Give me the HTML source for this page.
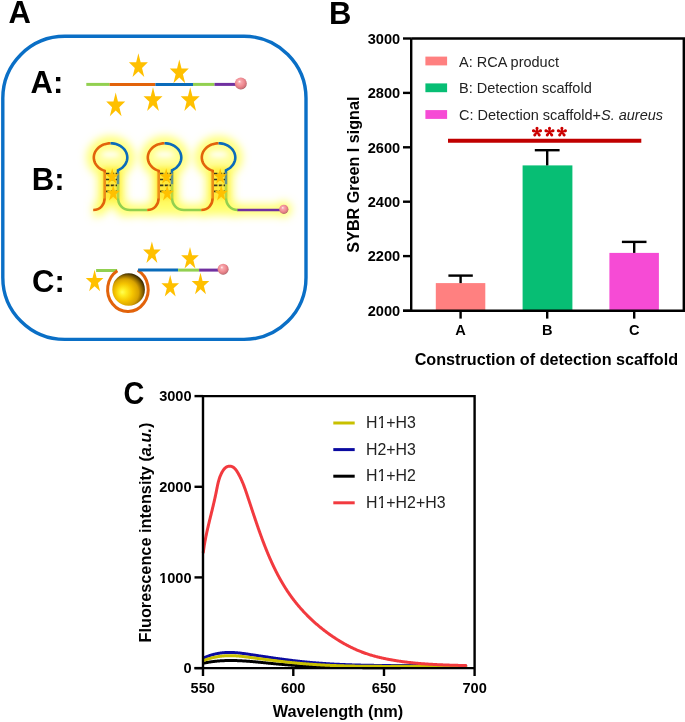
<!DOCTYPE html>
<html><head><meta charset="utf-8"><style>html,body{margin:0;padding:0;background:#fff;}svg{display:block;will-change:transform;}</style></head>
<body>
<svg width="685" height="722" viewBox="0 0 685 722">
<defs>
<radialGradient id="pink" cx="0.45" cy="0.42" r="0.62" fx="0.38" fy="0.33">
<stop offset="0" stop-color="#FFF4F4"/><stop offset="0.22" stop-color="#F8A8AE"/><stop offset="0.6" stop-color="#EE8990"/><stop offset="0.85" stop-color="#D0727A"/><stop offset="1" stop-color="#8A4A50"/>
</radialGradient>
<radialGradient id="gold" cx="0.42" cy="0.6" r="0.6" fx="0.3" fy="0.58">
<stop offset="0" stop-color="#FFFF55"/><stop offset="0.18" stop-color="#FFEC20"/><stop offset="0.45" stop-color="#F5C400"/><stop offset="0.7" stop-color="#D8A200"/><stop offset="0.86" stop-color="#8E6800"/><stop offset="1" stop-color="#3E2C00"/>
</radialGradient>
<filter id="blur" x="-30%" y="-30%" width="160%" height="160%"><feGaussianBlur stdDeviation="2.5"/></filter><filter id="blur2" x="-30%" y="-30%" width="160%" height="160%"><feGaussianBlur stdDeviation="4.5"/></filter>
</defs>
<rect width="685" height="722" fill="#fff"/>

<text x="8.4" y="22.9" font-family="Liberation Sans, sans-serif" font-weight="bold" font-size="31">A</text>
<rect x="2.8" y="36.3" width="303.2" height="303.1" rx="62" ry="62" fill="none" stroke="#0A6FC6" stroke-width="3.4"/>
<text x="30.6" y="92.6" font-family="Liberation Sans, sans-serif" font-weight="bold" font-size="31">A:</text>
<text x="31.8" y="189.9" font-family="Liberation Sans, sans-serif" font-weight="bold" font-size="31">B:</text>
<text x="32" y="291.8" font-family="Liberation Sans, sans-serif" font-weight="bold" font-size="31">C:</text>
<line x1="86.3" y1="84.4" x2="109.6" y2="84.4" stroke="#92D050" stroke-width="3"/>
<line x1="109.6" y1="84.4" x2="155.4" y2="84.4" stroke="#E2630B" stroke-width="3"/>
<line x1="155.4" y1="84.4" x2="193" y2="84.4" stroke="#0A6BBA" stroke-width="3"/>
<line x1="193" y1="84.4" x2="214.5" y2="84.4" stroke="#92D050" stroke-width="3"/>
<line x1="214.5" y1="84.4" x2="236" y2="84.4" stroke="#7030A0" stroke-width="3"/>
<circle cx="240.8" cy="83.5" r="6" fill="url(#pink)"/>
<path d="M138.40,53.30 L140.65,62.35 L147.91,62.35 L142.03,67.95 L144.28,77.00 L138.40,71.40 L132.52,77.00 L134.77,67.95 L128.89,62.35 L136.15,62.35Z" fill="#FFC000"/>
<path d="M179.30,59.50 L181.55,68.55 L188.81,68.55 L182.93,74.15 L185.18,83.20 L179.30,77.60 L173.42,83.20 L175.67,74.15 L169.79,68.55 L177.05,68.55Z" fill="#FFC000"/>
<path d="M115.70,92.50 L117.95,101.55 L125.21,101.55 L119.33,107.15 L121.58,116.20 L115.70,110.60 L109.82,116.20 L112.07,107.15 L106.19,101.55 L113.45,101.55Z" fill="#FFC000"/>
<path d="M153.00,87.20 L155.25,96.25 L162.51,96.25 L156.63,101.85 L158.88,110.90 L153.00,105.30 L147.12,110.90 L149.37,101.85 L143.49,96.25 L150.75,96.25Z" fill="#FFC000"/>
<path d="M190.20,87.20 L192.45,96.25 L199.71,96.25 L193.83,101.85 L196.08,110.90 L190.20,105.30 L184.32,110.90 L186.57,101.85 L180.69,96.25 L187.95,96.25Z" fill="#FFC000"/>
<g filter="url(#blur2)">
<path d="M93.2,210 C100.5,210 104.7,204.5 104.7,197.5 L104.7,171.2 L104.71,170.81 L101.32,169.35 L98.40,167.27 L96.11,164.70 L94.57,161.75 L93.85,158.58 L93.99,155.35 L94.99,152.24 L96.80,149.40 L99.31,146.97 L102.40,145.09 L105.92,143.85 L109.67,143.32 L113.47,143.52 L117.12,144.44 L120.43,146.03 L123.23,148.22 L125.37,150.89 L126.75,153.90 L127.29,157.09 L126.97,160.31 L125.80,163.38 L123.84,166.14 L121.19,168.46 L118.00,170.22 L118,171.2 L118,197.5 C118,204.5 122.5,210 130,210" fill="none" stroke="#FFFF70" stroke-width="14"/>
<ellipse cx="110.55" cy="157.5" rx="15" ry="12.5" fill="#FFFFA8"/>
<rect x="100" y="166" width="23" height="40" fill="#FFFA60"/>
<path d="M147.2,210 C154.5,210 158.7,204.5 158.7,197.5 L158.7,171.2 L158.71,170.81 L155.32,169.35 L152.40,167.27 L150.11,164.70 L148.57,161.75 L147.85,158.58 L147.99,155.35 L148.99,152.24 L150.80,149.40 L153.31,146.97 L156.40,145.09 L159.92,143.85 L163.67,143.32 L167.47,143.52 L171.12,144.44 L174.43,146.03 L177.23,148.22 L179.37,150.89 L180.75,153.90 L181.29,157.09 L180.97,160.31 L179.80,163.38 L177.84,166.14 L175.19,168.46 L172.00,170.22 L172,171.2 L172,197.5 C172,204.5 176.5,210 184,210" fill="none" stroke="#FFFF70" stroke-width="14"/>
<ellipse cx="164.55" cy="157.5" rx="15" ry="12.5" fill="#FFFFA8"/>
<rect x="154" y="166" width="23" height="40" fill="#FFFA60"/>
<path d="M201.2,210 C208.5,210 212.7,204.5 212.7,197.5 L212.7,171.2 L212.71,170.81 L209.32,169.35 L206.40,167.27 L204.11,164.70 L202.57,161.75 L201.85,158.58 L201.99,155.35 L202.99,152.24 L204.80,149.40 L207.31,146.97 L210.40,145.09 L213.92,143.85 L217.67,143.32 L221.47,143.52 L225.12,144.44 L228.43,146.03 L231.23,148.22 L233.37,150.89 L234.75,153.90 L235.29,157.09 L234.97,160.31 L233.80,163.38 L231.84,166.14 L229.19,168.46 L226.00,170.22 L226,171.2 L226,197.5 C226,204.5 230.5,210 238,210" fill="none" stroke="#FFFF70" stroke-width="14"/>
<ellipse cx="218.55" cy="157.5" rx="15" ry="12.5" fill="#FFFFA8"/>
<rect x="208" y="166" width="23" height="40" fill="#FFFA60"/>
<line x1="118" y1="210" x2="288" y2="210" stroke="#FFFF70" stroke-width="11"/>
<circle cx="283.8" cy="209.3" r="8" fill="#FFFF70"/>
</g>
<g filter="url(#blur)">
<rect x="103" y="168" width="17" height="32" fill="#FFEE40"/>
<ellipse cx="110.55" cy="154.5" rx="9" ry="2.6" fill="#fff"/>
<rect x="157" y="168" width="17" height="32" fill="#FFEE40"/>
<ellipse cx="164.55" cy="154.5" rx="9" ry="2.6" fill="#fff"/>
<rect x="211" y="168" width="17" height="32" fill="#FFEE40"/>
<ellipse cx="218.55" cy="154.5" rx="9" ry="2.6" fill="#fff"/>
</g>
<g fill="none" stroke-width="2.6">
<path d="M93.2,210 C100.5,210 104.7,204.5 104.7,197.5 L104.7,171.2 L104.71,170.81 L102.93,170.15 L101.26,169.31 L99.71,168.32 L98.30,167.18 L97.06,165.92 L96.00,164.54 L95.14,163.06 L94.48,161.51 L94.04,159.90 L93.82,158.27 L93.83,156.62 L94.06,154.99 L94.52,153.38 L95.19,151.84 L96.07,150.37 L97.14,148.99 L98.39,147.73 L99.81,146.61 L101.37,145.62 L103.05,144.80 L104.83,144.15 L106.70,143.68 L108.61,143.40 L110.55,143.30" stroke="#E2630B" />
<path d="M110.55,143.3 L110.55,143.30 L112.42,143.39 L114.26,143.65 L116.06,144.09 L117.79,144.69 L119.43,145.46 L120.95,146.37 L122.35,147.42 L123.60,148.60 L124.69,149.89 L125.60,151.28 L126.33,152.74 L126.86,154.26 L127.18,155.82 L127.30,157.40 L127.21,158.98 L126.91,160.55 L126.41,162.08 L125.71,163.55 L124.82,164.94 L123.75,166.24 L122.52,167.44 L121.14,168.50 L119.62,169.44 L118.00,170.22 L118,171.2 L118,184.5" stroke="#0A6BBA" />
<path d="M118,184.5 L118,197.5 C118,204.5 122.5,210 130,210 L147,210" stroke="#92D050" />
<path d="M147.2,210 C154.5,210 158.7,204.5 158.7,197.5 L158.7,171.2 L158.71,170.81 L156.93,170.15 L155.26,169.31 L153.71,168.32 L152.30,167.18 L151.06,165.92 L150.00,164.54 L149.14,163.06 L148.48,161.51 L148.04,159.90 L147.82,158.27 L147.83,156.62 L148.06,154.99 L148.52,153.38 L149.19,151.84 L150.07,150.37 L151.14,148.99 L152.39,147.73 L153.81,146.61 L155.37,145.62 L157.05,144.80 L158.83,144.15 L160.70,143.68 L162.61,143.40 L164.55,143.30" stroke="#E2630B" />
<path d="M164.55,143.3 L164.55,143.30 L166.42,143.39 L168.26,143.65 L170.06,144.09 L171.79,144.69 L173.43,145.46 L174.95,146.37 L176.35,147.42 L177.60,148.60 L178.69,149.89 L179.60,151.28 L180.33,152.74 L180.86,154.26 L181.18,155.82 L181.30,157.40 L181.21,158.98 L180.91,160.55 L180.41,162.08 L179.71,163.55 L178.82,164.94 L177.75,166.24 L176.52,167.44 L175.14,168.50 L173.62,169.44 L172.00,170.22 L172,171.2 L172,184.5" stroke="#0A6BBA" />
<path d="M172,184.5 L172,197.5 C172,204.5 176.5,210 184,210 L201,210" stroke="#92D050" />
<path d="M201.2,210 C208.5,210 212.7,204.5 212.7,197.5 L212.7,171.2 L212.71,170.81 L210.93,170.15 L209.26,169.31 L207.71,168.32 L206.30,167.18 L205.06,165.92 L204.00,164.54 L203.14,163.06 L202.48,161.51 L202.04,159.90 L201.82,158.27 L201.83,156.62 L202.06,154.99 L202.52,153.38 L203.19,151.84 L204.07,150.37 L205.14,148.99 L206.39,147.73 L207.81,146.61 L209.37,145.62 L211.05,144.80 L212.83,144.15 L214.70,143.68 L216.61,143.40 L218.55,143.30" stroke="#E2630B" />
<path d="M218.55,143.3 L218.55,143.30 L220.42,143.39 L222.26,143.65 L224.06,144.09 L225.79,144.69 L227.43,145.46 L228.95,146.37 L230.35,147.42 L231.60,148.60 L232.69,149.89 L233.60,151.28 L234.33,152.74 L234.86,154.26 L235.18,155.82 L235.30,157.40 L235.21,158.98 L234.91,160.55 L234.41,162.08 L233.71,163.55 L232.82,164.94 L231.75,166.24 L230.52,167.44 L229.14,168.50 L227.62,169.44 L226.00,170.22 L226,171.2 L226,184.5" stroke="#0A6BBA" />
<path d="M226,184.5 L226,197.5 C226,204.5 230.5,210 238,210" stroke="#92D050" />
</g>
<rect x="102.5" y="172.5" width="17.5" height="26" fill="#FFE030" opacity="0.35"/>
<line x1="106" y1="173.7" x2="117" y2="173.7" stroke="#3a3a1a" stroke-width="1.7" stroke-dasharray="3.4 1.4"/>
<line x1="106" y1="179.5" x2="117" y2="179.5" stroke="#3a3a1a" stroke-width="1.7" stroke-dasharray="3.4 1.4"/>
<line x1="106" y1="185.4" x2="117" y2="185.4" stroke="#3a3a1a" stroke-width="1.7" stroke-dasharray="3.4 1.4"/>
<line x1="106" y1="191.3" x2="117" y2="191.3" stroke="#3a3a1a" stroke-width="1.7" stroke-dasharray="3.4 1.4"/>
<path d="M112.20,168.26 L113.77,174.16 L118.86,174.16 L114.74,177.81 L116.31,183.71 L112.20,180.06 L108.09,183.71 L109.66,177.81 L105.54,174.16 L110.63,174.16Z" fill="#FFC000"/>
<path d="M113.20,184.96 L114.77,190.86 L119.86,190.86 L115.74,194.51 L117.31,200.41 L113.20,196.76 L109.09,200.41 L110.66,194.51 L106.54,190.86 L111.63,190.86Z" fill="#FFC000"/>
<rect x="156.5" y="172.5" width="17.5" height="26" fill="#FFE030" opacity="0.35"/>
<line x1="160" y1="173.7" x2="171" y2="173.7" stroke="#3a3a1a" stroke-width="1.7" stroke-dasharray="3.4 1.4"/>
<line x1="160" y1="179.5" x2="171" y2="179.5" stroke="#3a3a1a" stroke-width="1.7" stroke-dasharray="3.4 1.4"/>
<line x1="160" y1="185.4" x2="171" y2="185.4" stroke="#3a3a1a" stroke-width="1.7" stroke-dasharray="3.4 1.4"/>
<line x1="160" y1="191.3" x2="171" y2="191.3" stroke="#3a3a1a" stroke-width="1.7" stroke-dasharray="3.4 1.4"/>
<path d="M166.20,168.26 L167.77,174.16 L172.86,174.16 L168.74,177.81 L170.31,183.71 L166.20,180.06 L162.09,183.71 L163.66,177.81 L159.54,174.16 L164.63,174.16Z" fill="#FFC000"/>
<path d="M167.20,184.96 L168.77,190.86 L173.86,190.86 L169.74,194.51 L171.31,200.41 L167.20,196.76 L163.09,200.41 L164.66,194.51 L160.54,190.86 L165.63,190.86Z" fill="#FFC000"/>
<rect x="210.5" y="172.5" width="17.5" height="26" fill="#FFE030" opacity="0.35"/>
<line x1="214" y1="173.7" x2="225" y2="173.7" stroke="#3a3a1a" stroke-width="1.7" stroke-dasharray="3.4 1.4"/>
<line x1="214" y1="179.5" x2="225" y2="179.5" stroke="#3a3a1a" stroke-width="1.7" stroke-dasharray="3.4 1.4"/>
<line x1="214" y1="185.4" x2="225" y2="185.4" stroke="#3a3a1a" stroke-width="1.7" stroke-dasharray="3.4 1.4"/>
<line x1="214" y1="191.3" x2="225" y2="191.3" stroke="#3a3a1a" stroke-width="1.7" stroke-dasharray="3.4 1.4"/>
<path d="M220.20,168.26 L221.77,174.16 L226.86,174.16 L222.74,177.81 L224.31,183.71 L220.20,180.06 L216.09,183.71 L217.66,177.81 L213.54,174.16 L218.63,174.16Z" fill="#FFC000"/>
<path d="M221.20,184.96 L222.77,190.86 L227.86,190.86 L223.74,194.51 L225.31,200.41 L221.20,196.76 L217.09,200.41 L218.66,194.51 L214.54,190.86 L219.63,190.86Z" fill="#FFC000"/>
<line x1="237.5" y1="210" x2="280" y2="210" stroke="#7030A0" stroke-width="2.6"/>
<circle cx="283.8" cy="209.3" r="4.6" fill="url(#pink)"/>
<line x1="96.1" y1="270.5" x2="117.1" y2="270.5" stroke="#92D050" stroke-width="3"/>
<path d="M117.4,270.7 A20.3,22 0 1 0 137.6,270.2" fill="none" stroke="#E2630B" stroke-width="3"/>
<circle cx="128.6" cy="289.5" r="16.3" fill="url(#gold)"/>
<line x1="138.1" y1="270.1" x2="178.1" y2="270.1" stroke="#0A6BBA" stroke-width="3"/>
<line x1="178.1" y1="270.1" x2="199.1" y2="270.1" stroke="#92D050" stroke-width="3"/>
<line x1="199.1" y1="270.1" x2="218.5" y2="270.1" stroke="#7030A0" stroke-width="3"/>
<circle cx="223.1" cy="269.2" r="5.5" fill="url(#pink)"/>
<path d="M94.60,269.80 L96.69,278.02 L103.44,278.02 L97.98,283.11 L100.07,291.33 L94.60,286.25 L89.13,291.33 L91.22,283.11 L85.76,278.02 L92.51,278.02Z" fill="#FFC000"/>
<path d="M151.90,241.40 L153.99,249.62 L160.74,249.62 L155.28,254.71 L157.37,262.93 L151.90,257.85 L146.43,262.93 L148.52,254.71 L143.06,249.62 L149.81,249.62Z" fill="#FFC000"/>
<path d="M190.00,247.00 L192.09,255.22 L198.84,255.22 L193.38,260.31 L195.47,268.53 L190.00,263.45 L184.53,268.53 L186.62,260.31 L181.16,255.22 L187.91,255.22Z" fill="#FFC000"/>
<path d="M170.20,275.00 L172.29,283.22 L179.04,283.22 L173.58,288.31 L175.67,296.53 L170.20,291.45 L164.73,296.53 L166.82,288.31 L161.36,283.22 L168.11,283.22Z" fill="#FFC000"/>
<path d="M200.50,272.70 L202.59,280.92 L209.34,280.92 L203.88,286.01 L205.97,294.23 L200.50,289.15 L195.03,294.23 L197.12,286.01 L191.66,280.92 L198.41,280.92Z" fill="#FFC000"/>
<text x="328.9" y="24.1" font-family="Liberation Sans, sans-serif" font-weight="bold" font-size="31">B</text>
<rect x="435.8" y="283.1" width="49.5" height="27.7" fill="#FF8080"/>
<rect x="522.6" y="165.4" width="49.8" height="145.4" fill="#07BE74"/>
<rect x="609.4" y="252.9" width="49.5" height="57.9" fill="#F64BD5"/>
<g stroke="#000" stroke-width="2.4" fill="none">
<line x1="460.6" y1="283.1" x2="460.6" y2="275.6"/><line x1="448.40000000000003" y1="275.6" x2="472.8" y2="275.6"/>
<line x1="547.2" y1="165.4" x2="547.2" y2="150.2"/><line x1="534.8000000000001" y1="150.2" x2="559.6" y2="150.2"/>
<line x1="634.2" y1="252.9" x2="634.2" y2="241.9"/><line x1="621.9000000000001" y1="241.9" x2="646.5" y2="241.9"/>
<path d="M411.2,38.5 L683.8,38.5 L683.8,310.8 L403,310.8 M411.2,38.5 L411.2,310.8"/>
<line x1="403" y1="38.5" x2="411.2" y2="38.5"/>
<line x1="403" y1="92.9" x2="411.2" y2="92.9"/>
<line x1="403" y1="147.3" x2="411.2" y2="147.3"/>
<line x1="403" y1="201.7" x2="411.2" y2="201.7"/>
<line x1="403" y1="256.1" x2="411.2" y2="256.1"/>
<line x1="403" y1="310.8" x2="411.2" y2="310.8"/>
<line x1="460.6" y1="310.8" x2="460.6" y2="318.6"/>
<line x1="547.2" y1="310.8" x2="547.2" y2="318.6"/>
<line x1="634.2" y1="310.8" x2="634.2" y2="318.6"/>
</g>
<text x="400.2" y="43.8" font-family="Liberation Sans, sans-serif" font-weight="bold" font-size="14.6" text-anchor="end">3000</text>
<text x="400.2" y="98.2" font-family="Liberation Sans, sans-serif" font-weight="bold" font-size="14.6" text-anchor="end">2800</text>
<text x="400.2" y="152.60000000000002" font-family="Liberation Sans, sans-serif" font-weight="bold" font-size="14.6" text-anchor="end">2600</text>
<text x="400.2" y="207.0" font-family="Liberation Sans, sans-serif" font-weight="bold" font-size="14.6" text-anchor="end">2400</text>
<text x="400.2" y="261.40000000000003" font-family="Liberation Sans, sans-serif" font-weight="bold" font-size="14.6" text-anchor="end">2200</text>
<text x="400.2" y="315.8" font-family="Liberation Sans, sans-serif" font-weight="bold" font-size="14.6" text-anchor="end">2000</text>
<text x="460.6" y="335" font-family="Liberation Sans, sans-serif" font-weight="bold" font-size="14.6" text-anchor="middle">A</text>
<text x="547.2" y="335" font-family="Liberation Sans, sans-serif" font-weight="bold" font-size="14.6" text-anchor="middle">B</text>
<text x="634.2" y="335" font-family="Liberation Sans, sans-serif" font-weight="bold" font-size="14.6" text-anchor="middle">C</text>
<text x="546.4" y="364.6" font-family="Liberation Sans, sans-serif" font-weight="bold" font-size="16.2" text-anchor="middle">Construction of detection scaffold</text>
<text transform="translate(359.3,174.6) rotate(-90)" font-family="Liberation Sans, sans-serif" font-weight="bold" font-size="16.15" text-anchor="middle">SYBR Green I signal</text>
<rect x="425.4" y="56.6" width="21.7" height="8.8" fill="#FF8080"/>
<text x="459" y="66.6" font-family="Liberation Sans, sans-serif" font-size="14.5" fill="#222">A: RCA product</text>
<rect x="425.4" y="83.4" width="21.7" height="8.8" fill="#07BE74"/>
<text x="459" y="93.4" font-family="Liberation Sans, sans-serif" font-size="14.5" fill="#222">B: Detection scaffold</text>
<rect x="425.4" y="110.1" width="21.7" height="8.8" fill="#F64BD5"/>
<text x="459" y="120.1" font-family="Liberation Sans, sans-serif" font-size="14.5" fill="#222">C: Detection scaffold+<tspan font-style="italic">S. aureus</tspan></text>
<line x1="448" y1="140.85" x2="641.3" y2="140.85" stroke="#C00000" stroke-width="4"/>
<path d="M536.45,131.95 L535.45,128.25 A1.55,1.55 0 1 1 538.55,128.25 L537.55,131.95Z M536.83,131.43 L540.04,129.33 A1.55,1.55 0 1 1 541.00,132.28 L537.17,132.47Z M537.44,131.63 L540.43,134.03 A1.55,1.55 0 1 1 537.92,135.85 L536.56,132.27Z M537.44,132.27 L536.08,135.85 A1.55,1.55 0 1 1 533.57,134.03 L536.56,131.63Z M536.83,132.47 L533.00,132.28 A1.55,1.55 0 1 1 533.96,129.33 L537.17,131.43Z" fill="#CC0000"/>
<path d="M548.95,131.95 L547.95,128.25 A1.55,1.55 0 1 1 551.05,128.25 L550.05,131.95Z M549.33,131.43 L552.54,129.33 A1.55,1.55 0 1 1 553.50,132.28 L549.67,132.47Z M549.94,131.63 L552.93,134.03 A1.55,1.55 0 1 1 550.42,135.85 L549.06,132.27Z M549.94,132.27 L548.58,135.85 A1.55,1.55 0 1 1 546.07,134.03 L549.06,131.63Z M549.33,132.47 L545.50,132.28 A1.55,1.55 0 1 1 546.46,129.33 L549.67,131.43Z" fill="#CC0000"/>
<path d="M561.35,131.95 L560.35,128.25 A1.55,1.55 0 1 1 563.45,128.25 L562.45,131.95Z M561.73,131.43 L564.94,129.33 A1.55,1.55 0 1 1 565.90,132.28 L562.07,132.47Z M562.34,131.63 L565.33,134.03 A1.55,1.55 0 1 1 562.82,135.85 L561.46,132.27Z M562.34,132.27 L560.98,135.85 A1.55,1.55 0 1 1 558.47,134.03 L561.46,131.63Z M561.73,132.47 L557.90,132.28 A1.55,1.55 0 1 1 558.86,129.33 L562.07,131.43Z" fill="#CC0000"/>
<text transform="translate(123.6,403.5) scale(0.93,1.035)" font-family="Liberation Sans, sans-serif" font-weight="bold" font-size="31">C</text>
<g fill="none" stroke-width="3" stroke-linejoin="round" stroke-linecap="round">
<path d="M203.45,663.20 L203.89,663.11 L204.32,663.01 L204.76,662.92 L205.19,662.84 L205.63,662.75 L206.06,662.67 L206.50,662.58 L206.93,662.50 L207.37,662.42 L207.80,662.35 L208.24,662.27 L208.67,662.20 L209.11,662.13 L209.54,662.06 L209.98,661.99 L210.41,661.92 L210.85,661.86 L211.28,661.79 L211.72,661.73 L212.15,661.67 L212.59,661.62 L213.02,661.56 L213.46,661.51 L213.89,661.45 L214.33,661.40 L214.76,661.35 L215.20,661.30 L215.63,661.26 L216.07,661.21 L216.51,661.17 L216.94,661.13 L217.38,661.09 L217.81,661.05 L218.25,661.01 L218.68,660.97 L219.12,660.94 L219.56,660.91 L219.99,660.87 L220.43,660.84 L220.86,660.82 L221.30,660.79 L221.73,660.76 L222.17,660.74 L222.61,660.71 L223.04,660.69 L223.48,660.67 L223.91,660.65 L224.35,660.64 L224.79,660.62 L225.22,660.60 L225.66,660.59 L226.09,660.58 L226.53,660.56 L226.97,660.55 L227.40,660.55 L227.84,660.54 L228.27,660.53 L228.71,660.52 L229.15,660.52 L229.58,660.52 L230.02,660.51 L230.45,660.51 L230.89,660.51 L231.33,660.51 L231.76,660.52 L232.20,660.52 L232.64,660.52 L233.07,660.53 L233.51,660.54 L233.94,660.54 L234.38,660.55 L234.82,660.56 L235.25,660.57 L235.69,660.58 L236.13,660.60 L236.56,660.61 L237.00,660.62 L237.44,660.64 L237.87,660.65 L238.31,660.67 L238.75,660.69 L239.18,660.71 L239.62,660.72 L240.06,660.74 L240.49,660.77 L240.93,660.79 L241.37,660.81 L241.80,660.83 L242.24,660.86 L242.68,660.88 L243.11,660.91 L243.55,660.93 L243.99,660.96 L244.42,660.99 L244.86,661.01 L245.30,661.04 L245.73,661.07 L246.17,661.10 L246.61,661.13 L247.04,661.16 L247.48,661.20 L247.92,661.23 L248.36,661.26 L248.79,661.29 L249.23,661.33 L249.67,661.36 L250.10,661.40 L250.54,661.43 L250.98,661.47 L251.41,661.51 L251.85,661.54 L252.29,661.58 L252.73,661.62 L253.16,661.66 L253.60,661.70 L254.04,661.73 L254.47,661.77 L254.91,661.81 L255.35,661.85 L255.79,661.89 L256.22,661.93 L256.66,661.98 L257.10,662.02 L257.53,662.06 L257.97,662.10 L258.41,662.14 L258.85,662.18 L259.28,662.23 L259.72,662.27 L260.16,662.31 L260.60,662.35 L261.03,662.40 L261.47,662.44 L261.91,662.49 L262.34,662.53 L262.78,662.57 L263.22,662.62 L263.66,662.66 L264.09,662.70 L264.53,662.75 L264.97,662.79 L265.41,662.84 L265.84,662.88 L266.28,662.92 L266.72,662.97 L267.16,663.01 L267.59,663.06 L268.03,663.10 L268.47,663.15 L268.91,663.19 L269.34,663.23 L269.78,663.28 L270.22,663.32 L270.66,663.36 L271.09,663.41 L271.53,663.45 L271.97,663.49 L272.41,663.54 L272.84,663.58 L273.28,663.62 L273.72,663.66 L274.16,663.70 L274.59,663.75 L275.03,663.79 L275.47,663.83 L275.91,663.87 L276.35,663.91 L276.78,663.95 L277.22,663.99 L277.66,664.03 L278.10,664.07 L278.53,664.11 L278.97,664.15 L279.41,664.19 L279.85,664.22 L280.28,664.26 L280.72,664.30 L281.16,664.34 L281.60,664.37 L282.04,664.41 L282.47,664.45 L282.91,664.48 L283.35,664.52 L283.79,664.56 L284.22,664.59 L284.66,664.63 L285.10,664.66 L285.54,664.70 L285.97,664.73 L286.41,664.77 L286.85,664.80 L287.29,664.83 L287.73,664.87 L288.16,664.90 L288.60,664.93 L289.04,664.97 L289.48,665.00 L289.92,665.03 L290.35,665.06 L290.79,665.10 L291.23,665.13 L291.67,665.16 L292.10,665.19 L292.54,665.22 L292.98,665.25 L293.42,665.28 L293.86,665.31 L294.29,665.34 L294.73,665.37 L295.17,665.40 L295.61,665.43 L296.05,665.46 L296.48,665.49 L296.92,665.52 L297.36,665.54 L297.80,665.57 L298.24,665.60 L298.67,665.63 L299.11,665.66 L299.55,665.68 L299.99,665.71 L300.43,665.74 L300.86,665.76 L301.30,665.79 L301.74,665.81 L302.18,665.84 L302.62,665.87 L303.05,665.89 L303.49,665.92 L303.93,665.94 L304.37,665.96 L304.81,665.99 L305.24,666.01 L305.68,666.04 L306.12,666.06 L306.56,666.08 L307.00,666.11 L307.43,666.13 L307.87,666.15 L308.31,666.18 L308.75,666.20 L309.19,666.22 L309.62,666.24 L310.06,666.26 L310.50,666.29 L310.94,666.31 L311.38,666.33 L311.82,666.35 L312.25,666.37 L312.69,666.39 L313.13,666.41 L313.57,666.43 L314.01,666.45 L314.44,666.47 L314.88,666.49 L315.32,666.51 L315.76,666.53 L316.20,666.55 L316.64,666.57 L317.07,666.59 L317.51,666.60 L317.95,666.62 L318.39,666.64 L318.83,666.66 L319.26,666.68 L319.70,666.69 L320.14,666.71 L320.58,666.73 L321.02,666.74 L321.46,666.76 L321.89,666.78 L322.33,666.79 L322.77,666.81 L323.21,666.83 L323.65,666.84 L324.09,666.86 L324.52,666.87 L324.96,666.89 L325.40,666.90 L325.84,666.92 L326.28,666.93 L326.72,666.95 L327.15,666.96 L327.59,666.98 L328.03,666.99 L328.47,667.00 L328.91,667.02 L329.35,667.03 L329.78,667.04 L330.22,667.06 L330.66,667.07 L331.10,667.08 L331.54,667.10 L331.98,667.11 L332.41,667.12 L332.85,667.13 L333.29,667.14 L333.73,667.16 L334.17,667.17 L334.61,667.18 L335.04,667.19 L335.48,667.20 L335.92,667.21 L336.36,667.22 L336.80,667.23 L337.24,667.24 L337.68,667.26 L338.11,667.27 L338.55,667.28 L338.99,667.29 L339.43,667.30 L339.87,667.31 L340.31,667.31 L340.74,667.32 L341.18,667.33 L341.62,667.34 L342.06,667.35 L342.50,667.36 L342.94,667.37 L343.38,667.38 L343.81,667.39 L344.25,667.39 L344.69,667.40 L345.13,667.41 L345.57,667.42 L346.01,667.43 L346.45,667.43 L346.88,667.44 L347.32,667.45 L347.76,667.46 L348.20,667.46 L348.64,667.47 L349.08,667.48 L349.51,667.48 L349.95,667.49 L350.39,667.50 L350.83,667.50 L351.27,667.51 L351.71,667.51 L352.15,667.52 L352.58,667.53 L353.02,667.53 L353.46,667.54 L353.90,667.54 L354.34,667.55 L354.78,667.55 L355.22,667.56 L355.65,667.56 L356.09,667.57 L356.53,667.57 L356.97,667.58 L357.41,667.58 L357.85,667.59 L358.29,667.59 L358.73,667.59 L359.16,667.60 L359.60,667.60 L360.04,667.61 L360.48,667.61 L360.92,667.61 L361.36,667.62 L361.80,667.62 L362.23,667.62 L362.67,667.63 L363.11,667.63 L363.55,667.63 L363.99,667.64 L364.43,667.64 L364.87,667.64 L365.30,667.64 L365.74,667.65 L366.18,667.65 L366.62,667.65 L367.06,667.65 L367.50,667.66 L367.94,667.66 L368.38,667.66 L368.81,667.66 L369.25,667.66 L369.69,667.67 L370.13,667.67 L370.57,667.67 L371.01,667.67 L371.45,667.67 L371.89,667.67 L372.32,667.67 L372.76,667.68 L373.20,667.68 L373.64,667.68 L374.08,667.68 L374.52,667.68 L374.96,667.68 L375.40,667.68 L375.83,667.68 L376.27,667.68 L376.71,667.68 L377.15,667.68 L377.59,667.68 L378.03,667.68 L378.47,667.68 L378.91,667.68 L379.34,667.68 L379.78,667.68 L380.22,667.68 L380.66,667.68 L381.10,667.68 L381.54,667.68 L381.98,667.68 L382.42,667.68 L382.85,667.68 L383.29,667.68 L383.73,667.68 L384.17,667.68 L384.61,667.68 L385.05,667.68 L385.49,667.68 L385.93,667.68 L386.36,667.68 L386.80,667.68 L387.24,667.67 L387.68,667.67 L388.12,667.67 L388.56,667.67 L389.00,667.67 L389.44,667.67 L389.87,667.67 L390.31,667.67 L390.75,667.67 L391.19,667.66 L391.63,667.66 L392.07,667.66 L392.51,667.66 L392.95,667.66 L393.39,667.66 L393.82,667.65 L394.26,667.65 L394.70,667.65 L395.14,667.65 L395.58,667.65 L396.02,667.65 L396.46,667.64 L396.90,667.64 L397.34,667.64 L397.77,667.64 L398.21,667.64 L398.65,667.63 L399.09,667.63 L399.53,667.63 L399.97,667.63 L400.41,667.63 L400.85,667.62 L401.28,667.62 L401.72,667.62 L402.16,667.62 L402.60,667.62 L403.04,667.61 L403.48,667.61 L403.92,667.61 L404.36,667.61 L404.80,667.60 L405.23,667.60 L405.67,667.60 L406.11,667.60 L406.55,667.59 L406.99,667.59 L407.43,667.59 L407.87,667.59 L408.31,667.59 L408.75,667.58 L409.18,667.58 L409.62,667.58 L410.06,667.58 L410.50,667.57 L410.94,667.57 L411.38,667.57 L411.82,667.57 L412.26,667.56 L412.70,667.56 L413.13,667.56 L413.57,667.56 L414.01,667.55 L414.45,667.55 L414.89,667.55 L415.33,667.55 L415.77,667.54 L416.21,667.54 L416.65,667.54 L417.08,667.54 L417.52,667.54 L417.96,667.53 L418.40,667.53 L418.84,667.53 L419.28,667.53 L419.72,667.52 L420.16,667.52 L420.60,667.52 L421.03,667.52 L421.47,667.51 L421.91,667.51 L422.35,667.51 L422.79,667.51 L423.23,667.51 L423.67,667.50 L424.11,667.50 L424.55,667.50 L424.98,667.50 L425.42,667.50 L425.86,667.49 L426.30,667.49 L426.74,667.49 L427.18,667.49 L427.62,667.49 L428.06,667.48 L428.50,667.48 L428.94,667.48 L429.37,667.48 L429.81,667.48 L430.25,667.48 L430.69,667.47 L431.13,667.47 L431.57,667.47 L432.01,667.47 L432.45,667.47 L432.89,667.47 L433.32,667.47 L433.76,667.47 L434.20,667.46 L434.64,667.46 L435.08,667.46 L435.52,667.46 L435.96,667.46 L436.40,667.46 L436.84,667.46 L437.27,667.46 L437.71,667.46 L438.15,667.45 L438.59,667.45 L439.03,667.45 L439.47,667.45 L439.91,667.45 L440.35,667.45 L440.79,667.45 L441.22,667.45 L441.66,667.45 L442.10,667.45 L442.54,667.45 L442.98,667.45 L443.42,667.45 L443.86,667.45 L444.30,667.45 L444.74,667.45 L445.17,667.45 L445.61,667.45 L446.05,667.45 L446.49,667.45 L446.93,667.45 L447.37,667.45 L447.81,667.45 L448.25,667.45 L448.69,667.45 L449.13,667.46 L449.56,667.46 L450.00,667.46 L450.44,667.46 L450.88,667.46 L451.32,667.46 L451.76,667.46 L452.20,667.46 L452.64,667.47 L453.08,667.47 L453.51,667.47 L453.95,667.47 L454.39,667.47 L454.83,667.47 L455.27,667.48 L455.71,667.48 L456.15,667.48 L456.59,667.48 L457.03,667.48 L457.46,667.49 L457.90,667.49 L458.34,667.49 L458.78,667.50 L459.22,667.50 L459.66,667.50 L460.10,667.50 L460.54,667.51 L460.98,667.51 L461.41,667.51 L461.85,667.52 L462.29,667.52 L462.73,667.52 L463.17,667.53 L463.61,667.53 L464.05,667.54 L464.49,667.54 L464.93,667.54 L465.36,667.55 L465.80,667.55" stroke="#000"/>
<path d="M203.49,658.03 L203.91,657.84 L204.32,657.65 L204.74,657.47 L205.16,657.29 L205.58,657.11 L206.00,656.94 L206.42,656.77 L206.85,656.60 L207.27,656.44 L207.69,656.28 L208.11,656.12 L208.54,655.97 L208.96,655.82 L209.38,655.68 L209.81,655.53 L210.23,655.40 L210.66,655.26 L211.08,655.13 L211.51,655.00 L211.94,654.88 L212.36,654.75 L212.79,654.63 L213.22,654.52 L213.65,654.41 L214.07,654.30 L214.50,654.19 L214.93,654.09 L215.36,653.99 L215.79,653.90 L216.22,653.80 L216.65,653.72 L217.08,653.63 L217.51,653.55 L217.94,653.47 L218.37,653.39 L218.80,653.32 L219.24,653.25 L219.67,653.18 L220.10,653.11 L220.53,653.05 L220.97,652.99 L221.40,652.94 L221.83,652.89 L222.26,652.84 L222.70,652.79 L223.13,652.75 L223.57,652.71 L224.00,652.67 L224.43,652.63 L224.87,652.60 L225.30,652.57 L225.74,652.55 L226.17,652.53 L226.61,652.51 L227.04,652.49 L227.48,652.47 L227.91,652.46 L228.35,652.45 L228.78,652.45 L229.22,652.44 L229.65,652.44 L230.09,652.44 L230.52,652.45 L230.96,652.45 L231.39,652.46 L231.83,652.48 L232.27,652.49 L232.70,652.51 L233.14,652.53 L233.57,652.55 L234.01,652.57 L234.45,652.60 L234.88,652.63 L235.32,652.66 L235.76,652.69 L236.19,652.72 L236.63,652.76 L237.06,652.80 L237.50,652.84 L237.94,652.88 L238.37,652.92 L238.81,652.97 L239.25,653.01 L239.68,653.06 L240.12,653.11 L240.56,653.16 L240.99,653.21 L241.43,653.26 L241.87,653.32 L242.30,653.37 L242.74,653.43 L243.18,653.49 L243.61,653.54 L244.05,653.60 L244.49,653.66 L244.92,653.72 L245.36,653.79 L245.80,653.85 L246.23,653.91 L246.67,653.97 L247.11,654.04 L247.54,654.10 L247.98,654.17 L248.42,654.23 L248.85,654.30 L249.29,654.36 L249.73,654.43 L250.16,654.49 L250.60,654.56 L251.04,654.62 L251.47,654.69 L251.91,654.75 L252.35,654.82 L252.78,654.88 L253.22,654.95 L253.66,655.02 L254.09,655.08 L254.53,655.15 L254.96,655.21 L255.40,655.28 L255.84,655.34 L256.27,655.41 L256.71,655.48 L257.15,655.54 L257.58,655.61 L258.02,655.67 L258.46,655.74 L258.89,655.81 L259.33,655.87 L259.77,655.94 L260.20,656.00 L260.64,656.07 L261.07,656.13 L261.51,656.20 L261.95,656.26 L262.38,656.33 L262.82,656.40 L263.26,656.46 L263.69,656.53 L264.13,656.59 L264.57,656.66 L265.00,656.72 L265.44,656.79 L265.87,656.85 L266.31,656.92 L266.75,656.98 L267.18,657.05 L267.62,657.11 L268.06,657.17 L268.49,657.24 L268.93,657.30 L269.36,657.37 L269.80,657.43 L270.24,657.50 L270.67,657.56 L271.11,657.62 L271.55,657.69 L271.98,657.75 L272.42,657.81 L272.86,657.88 L273.29,657.94 L273.73,658.00 L274.16,658.07 L274.60,658.13 L275.04,658.19 L275.47,658.25 L275.91,658.32 L276.35,658.38 L276.78,658.44 L277.22,658.50 L277.66,658.56 L278.09,658.62 L278.53,658.68 L278.97,658.75 L279.40,658.81 L279.84,658.87 L280.27,658.93 L280.71,658.99 L281.15,659.05 L281.58,659.11 L282.02,659.17 L282.46,659.23 L282.89,659.29 L283.33,659.34 L283.77,659.40 L284.20,659.46 L284.64,659.52 L285.08,659.58 L285.51,659.64 L285.95,659.69 L286.39,659.75 L286.82,659.81 L287.26,659.86 L287.70,659.92 L288.13,659.98 L288.57,660.03 L289.01,660.09 L289.44,660.14 L289.88,660.20 L290.32,660.25 L290.76,660.31 L291.19,660.36 L291.63,660.42 L292.07,660.47 L292.50,660.52 L292.94,660.58 L293.38,660.63 L293.81,660.68 L294.25,660.73 L294.69,660.79 L295.13,660.84 L295.56,660.89 L296.00,660.94 L296.44,660.99 L296.87,661.04 L297.31,661.09 L297.75,661.14 L298.19,661.19 L298.62,661.24 L299.06,661.29 L299.50,661.33 L299.94,661.38 L300.37,661.43 L300.81,661.48 L301.25,661.52 L301.69,661.57 L302.12,661.62 L302.56,661.66 L303.00,661.71 L303.44,661.75 L303.87,661.80 L304.31,661.84 L304.75,661.89 L305.19,661.93 L305.63,661.97 L306.06,662.01 L306.50,662.06 L306.94,662.10 L307.38,662.14 L307.82,662.18 L308.25,662.22 L308.69,662.26 L309.13,662.31 L309.57,662.35 L310.01,662.39 L310.44,662.42 L310.88,662.46 L311.32,662.50 L311.76,662.54 L312.20,662.58 L312.63,662.62 L313.07,662.66 L313.51,662.69 L313.95,662.73 L314.39,662.77 L314.83,662.80 L315.26,662.84 L315.70,662.87 L316.14,662.91 L316.58,662.94 L317.02,662.98 L317.46,663.01 L317.90,663.05 L318.33,663.08 L318.77,663.11 L319.21,663.15 L319.65,663.18 L320.09,663.21 L320.53,663.25 L320.97,663.28 L321.41,663.31 L321.84,663.34 L322.28,663.37 L322.72,663.40 L323.16,663.43 L323.60,663.46 L324.04,663.49 L324.48,663.52 L324.92,663.55 L325.36,663.58 L325.79,663.61 L326.23,663.64 L326.67,663.67 L327.11,663.69 L327.55,663.72 L327.99,663.75 L328.43,663.78 L328.87,663.80 L329.31,663.83 L329.75,663.86 L330.19,663.88 L330.63,663.91 L331.06,663.93 L331.50,663.96 L331.94,663.98 L332.38,664.01 L332.82,664.03 L333.26,664.06 L333.70,664.08 L334.14,664.11 L334.58,664.13 L335.02,664.15 L335.46,664.18 L335.90,664.20 L336.34,664.22 L336.78,664.24 L337.22,664.27 L337.66,664.29 L338.10,664.31 L338.54,664.33 L338.98,664.35 L339.41,664.37 L339.85,664.39 L340.29,664.41 L340.73,664.43 L341.17,664.45 L341.61,664.47 L342.05,664.49 L342.49,664.51 L342.93,664.53 L343.37,664.55 L343.81,664.57 L344.25,664.58 L344.69,664.60 L345.13,664.62 L345.57,664.64 L346.01,664.66 L346.45,664.67 L346.89,664.69 L347.33,664.71 L347.77,664.72 L348.21,664.74 L348.65,664.76 L349.09,664.77 L349.53,664.79 L349.97,664.80 L350.41,664.82 L350.85,664.83 L351.29,664.85 L351.73,664.86 L352.17,664.88 L352.61,664.89 L353.05,664.91 L353.49,664.92 L353.93,664.93 L354.37,664.95 L354.81,664.96 L355.25,664.97 L355.69,664.99 L356.13,665.00 L356.57,665.01 L357.01,665.02 L357.45,665.04 L357.89,665.05 L358.33,665.06 L358.78,665.07 L359.22,665.08 L359.66,665.09 L360.10,665.11 L360.54,665.12 L360.98,665.13 L361.42,665.14 L361.86,665.15 L362.30,665.16 L362.74,665.17 L363.18,665.18 L363.62,665.19 L364.06,665.20 L364.50,665.21 L364.94,665.22 L365.38,665.23 L365.82,665.23 L366.26,665.24 L366.70,665.25 L367.14,665.26 L367.58,665.27 L368.02,665.28 L368.46,665.29 L368.91,665.29 L369.35,665.30 L369.79,665.31 L370.23,665.32 L370.67,665.32 L371.11,665.33 L371.55,665.34 L371.99,665.35 L372.43,665.35 L372.87,665.36 L373.31,665.37 L373.75,665.37 L374.19,665.38 L374.63,665.39 L375.07,665.39 L375.51,665.40 L375.96,665.40 L376.40,665.41 L376.84,665.41 L377.28,665.42 L377.72,665.43 L378.16,665.43 L378.60,665.44 L379.04,665.44 L379.48,665.45 L379.92,665.45 L380.36,665.46 L380.80,665.46 L381.24,665.46 L381.68,665.47 L382.13,665.47 L382.57,665.48 L383.01,665.48 L383.45,665.49 L383.89,665.49 L384.33,665.49 L384.77,665.50 L385.21,665.50 L385.65,665.50 L386.09,665.51 L386.53,665.51 L386.97,665.51 L387.41,665.52 L387.86,665.52 L388.30,665.52 L388.74,665.53 L389.18,665.53 L389.62,665.53 L390.06,665.54 L390.50,665.54 L390.94,665.54 L391.38,665.54 L391.82,665.55 L392.26,665.55 L392.70,665.55 L393.15,665.55 L393.59,665.55 L394.03,665.56 L394.47,665.56 L394.91,665.56 L395.35,665.56 L395.79,665.56 L396.23,665.57 L396.67,665.57 L397.11,665.57 L397.55,665.57 L397.99,665.57 L398.44,665.57 L398.88,665.58 L399.32,665.58 L399.76,665.58 L400.20,665.58 L400.64,665.58 L401.08,665.58 L401.52,665.58 L401.96,665.58 L402.40,665.59 L402.84,665.59 L403.28,665.59 L403.73,665.59 L404.17,665.59 L404.61,665.59 L405.05,665.59 L405.49,665.59 L405.93,665.59 L406.37,665.59 L406.81,665.59 L407.25,665.59 L407.69,665.60 L408.13,665.60 L408.57,665.60 L409.01,665.60 L409.46,665.60 L409.90,665.60 L410.34,665.60 L410.78,665.60 L411.22,665.60 L411.66,665.60 L412.10,665.60 L412.54,665.60 L412.98,665.60 L413.42,665.60 L413.86,665.60 L414.30,665.61 L414.74,665.61 L415.18,665.61 L415.63,665.61 L416.07,665.61 L416.51,665.61 L416.95,665.61 L417.39,665.61 L417.83,665.61 L418.27,665.61 L418.71,665.61 L419.15,665.61 L419.59,665.61 L420.03,665.61 L420.47,665.61 L420.91,665.61 L421.35,665.62 L421.79,665.62 L422.24,665.62 L422.68,665.62 L423.12,665.62 L423.56,665.62 L424.00,665.62 L424.44,665.62 L424.88,665.62 L425.32,665.62 L425.76,665.62 L426.20,665.63 L426.64,665.63 L427.08,665.63 L427.52,665.63 L427.96,665.63 L428.40,665.63 L428.84,665.63 L429.28,665.63 L429.72,665.64 L430.16,665.64 L430.61,665.64 L431.05,665.64 L431.49,665.64 L431.93,665.64 L432.37,665.65 L432.81,665.65 L433.25,665.65 L433.69,665.65 L434.13,665.65 L434.57,665.66 L435.01,665.66 L435.45,665.66 L435.89,665.66 L436.33,665.66 L436.77,665.67 L437.21,665.67 L437.65,665.67 L438.09,665.67 L438.53,665.68 L438.97,665.68 L439.41,665.68 L439.85,665.69 L440.29,665.69 L440.73,665.69 L441.17,665.70 L441.61,665.70 L442.05,665.70 L442.49,665.71 L442.93,665.71 L443.37,665.71 L443.81,665.72 L444.25,665.72 L444.69,665.72 L445.13,665.73 L445.57,665.73 L446.01,665.74 L446.45,665.74 L446.89,665.75 L447.33,665.75 L447.77,665.75 L448.21,665.76 L448.65,665.76 L449.09,665.77 L449.53,665.77 L449.97,665.78 L450.41,665.78 L450.85,665.79 L451.29,665.80 L451.73,665.80 L452.17,665.81 L452.61,665.81 L453.05,665.82 L453.49,665.82 L453.93,665.83 L454.37,665.84 L454.81,665.84 L455.25,665.85 L455.69,665.86 L456.13,665.86 L456.57,665.87 L457.01,665.88 L457.45,665.89 L457.88,665.89 L458.32,665.90 L458.76,665.91 L459.20,665.92 L459.64,665.92 L460.08,665.93 L460.52,665.94 L460.96,665.95 L461.40,665.96 L461.84,665.97 L462.28,665.98 L462.72,665.98 L463.16,665.99 L463.60,666.00 L464.04,666.01 L464.47,666.02 L464.91,666.03 L465.35,666.04 L465.79,666.05" stroke="#0A0AA0"/>
<path d="M203.49,660.60 L203.91,660.43 L204.34,660.27 L204.76,660.12 L205.18,659.96 L205.60,659.81 L206.03,659.67 L206.45,659.52 L206.88,659.38 L207.30,659.24 L207.73,659.10 L208.15,658.97 L208.58,658.83 L209.00,658.71 L209.43,658.58 L209.86,658.46 L210.29,658.34 L210.71,658.22 L211.14,658.10 L211.57,657.99 L212.00,657.88 L212.43,657.77 L212.86,657.67 L213.29,657.57 L213.72,657.47 L214.15,657.37 L214.58,657.28 L215.01,657.19 L215.44,657.10 L215.87,657.01 L216.30,656.93 L216.73,656.85 L217.16,656.77 L217.60,656.70 L218.03,656.63 L218.46,656.56 L218.89,656.49 L219.33,656.43 L219.76,656.36 L220.19,656.31 L220.63,656.25 L221.06,656.19 L221.50,656.14 L221.93,656.10 L222.36,656.05 L222.80,656.01 L223.23,655.97 L223.67,655.93 L224.10,655.89 L224.54,655.86 L224.97,655.83 L225.41,655.80 L225.84,655.77 L226.28,655.75 L226.72,655.73 L227.15,655.71 L227.59,655.70 L228.02,655.69 L228.46,655.68 L228.90,655.67 L229.33,655.66 L229.77,655.66 L230.20,655.66 L230.64,655.67 L231.08,655.67 L231.51,655.68 L231.95,655.69 L232.39,655.70 L232.82,655.71 L233.26,655.73 L233.70,655.75 L234.13,655.77 L234.57,655.79 L235.01,655.82 L235.44,655.84 L235.88,655.87 L236.32,655.90 L236.75,655.93 L237.19,655.97 L237.63,656.00 L238.06,656.04 L238.50,656.08 L238.94,656.12 L239.38,656.16 L239.81,656.20 L240.25,656.24 L240.69,656.29 L241.12,656.33 L241.56,656.38 L242.00,656.43 L242.43,656.48 L242.87,656.53 L243.31,656.58 L243.75,656.63 L244.18,656.69 L244.62,656.74 L245.06,656.79 L245.49,656.85 L245.93,656.90 L246.37,656.96 L246.81,657.01 L247.24,657.07 L247.68,657.13 L248.12,657.19 L248.55,657.24 L248.99,657.30 L249.43,657.36 L249.87,657.42 L250.30,657.48 L250.74,657.53 L251.18,657.59 L251.61,657.65 L252.05,657.71 L252.49,657.77 L252.92,657.82 L253.36,657.88 L253.80,657.94 L254.24,658.00 L254.67,658.06 L255.11,658.11 L255.55,658.17 L255.98,658.23 L256.42,658.29 L256.86,658.34 L257.29,658.40 L257.73,658.46 L258.17,658.52 L258.60,658.58 L259.04,658.63 L259.48,658.69 L259.91,658.75 L260.35,658.81 L260.79,658.86 L261.23,658.92 L261.66,658.98 L262.10,659.03 L262.54,659.09 L262.97,659.15 L263.41,659.21 L263.85,659.26 L264.28,659.32 L264.72,659.38 L265.16,659.43 L265.59,659.49 L266.03,659.54 L266.47,659.60 L266.90,659.66 L267.34,659.71 L267.78,659.77 L268.21,659.82 L268.65,659.88 L269.09,659.94 L269.52,659.99 L269.96,660.05 L270.40,660.10 L270.83,660.16 L271.27,660.21 L271.71,660.27 L272.14,660.32 L272.58,660.38 L273.02,660.43 L273.45,660.48 L273.89,660.54 L274.33,660.59 L274.76,660.65 L275.20,660.70 L275.64,660.75 L276.07,660.81 L276.51,660.86 L276.95,660.91 L277.38,660.97 L277.82,661.02 L278.26,661.07 L278.69,661.12 L279.13,661.17 L279.57,661.23 L280.00,661.28 L280.44,661.33 L280.88,661.38 L281.31,661.43 L281.75,661.48 L282.19,661.53 L282.63,661.58 L283.06,661.63 L283.50,661.68 L283.94,661.73 L284.37,661.78 L284.81,661.83 L285.25,661.88 L285.68,661.93 L286.12,661.98 L286.56,662.03 L286.99,662.07 L287.43,662.12 L287.87,662.17 L288.31,662.22 L288.74,662.26 L289.18,662.31 L289.62,662.36 L290.05,662.40 L290.49,662.45 L290.93,662.50 L291.37,662.54 L291.80,662.59 L292.24,662.63 L292.68,662.68 L293.11,662.72 L293.55,662.76 L293.99,662.81 L294.43,662.85 L294.86,662.90 L295.30,662.94 L295.74,662.98 L296.17,663.02 L296.61,663.06 L297.05,663.11 L297.49,663.15 L297.92,663.19 L298.36,663.23 L298.80,663.27 L299.24,663.31 L299.67,663.35 L300.11,663.39 L300.55,663.43 L300.99,663.47 L301.42,663.51 L301.86,663.54 L302.30,663.58 L302.74,663.62 L303.18,663.66 L303.61,663.69 L304.05,663.73 L304.49,663.77 L304.93,663.80 L305.36,663.84 L305.80,663.87 L306.24,663.91 L306.68,663.94 L307.12,663.98 L307.55,664.01 L307.99,664.04 L308.43,664.08 L308.87,664.11 L309.31,664.14 L309.74,664.17 L310.18,664.21 L310.62,664.24 L311.06,664.27 L311.50,664.30 L311.93,664.33 L312.37,664.36 L312.81,664.39 L313.25,664.42 L313.69,664.45 L314.13,664.48 L314.56,664.51 L315.00,664.54 L315.44,664.57 L315.88,664.60 L316.32,664.62 L316.76,664.65 L317.19,664.68 L317.63,664.71 L318.07,664.73 L318.51,664.76 L318.95,664.79 L319.39,664.81 L319.83,664.84 L320.26,664.86 L320.70,664.89 L321.14,664.91 L321.58,664.94 L322.02,664.96 L322.46,664.99 L322.90,665.01 L323.33,665.03 L323.77,665.06 L324.21,665.08 L324.65,665.10 L325.09,665.13 L325.53,665.15 L325.97,665.17 L326.41,665.19 L326.84,665.21 L327.28,665.23 L327.72,665.26 L328.16,665.28 L328.60,665.30 L329.04,665.32 L329.48,665.34 L329.92,665.36 L330.36,665.38 L330.79,665.40 L331.23,665.42 L331.67,665.43 L332.11,665.45 L332.55,665.47 L332.99,665.49 L333.43,665.51 L333.87,665.52 L334.31,665.54 L334.75,665.56 L335.19,665.58 L335.62,665.59 L336.06,665.61 L336.50,665.63 L336.94,665.64 L337.38,665.66 L337.82,665.67 L338.26,665.69 L338.70,665.70 L339.14,665.72 L339.58,665.73 L340.02,665.75 L340.46,665.76 L340.90,665.78 L341.33,665.79 L341.77,665.80 L342.21,665.82 L342.65,665.83 L343.09,665.84 L343.53,665.86 L343.97,665.87 L344.41,665.88 L344.85,665.90 L345.29,665.91 L345.73,665.92 L346.17,665.93 L346.61,665.94 L347.05,665.95 L347.49,665.97 L347.93,665.98 L348.37,665.99 L348.81,666.00 L349.25,666.01 L349.68,666.02 L350.12,666.03 L350.56,666.04 L351.00,666.05 L351.44,666.06 L351.88,666.07 L352.32,666.08 L352.76,666.09 L353.20,666.10 L353.64,666.10 L354.08,666.11 L354.52,666.12 L354.96,666.13 L355.40,666.14 L355.84,666.14 L356.28,666.15 L356.72,666.16 L357.16,666.17 L357.60,666.17 L358.04,666.18 L358.48,666.19 L358.92,666.20 L359.36,666.20 L359.80,666.21 L360.24,666.22 L360.68,666.22 L361.12,666.23 L361.56,666.23 L362.00,666.24 L362.44,666.25 L362.88,666.25 L363.32,666.26 L363.76,666.26 L364.20,666.27 L364.64,666.27 L365.08,666.28 L365.52,666.28 L365.96,666.29 L366.40,666.29 L366.84,666.29 L367.28,666.30 L367.72,666.30 L368.16,666.31 L368.60,666.31 L369.04,666.31 L369.48,666.32 L369.92,666.32 L370.36,666.32 L370.80,666.33 L371.24,666.33 L371.68,666.33 L372.12,666.34 L372.56,666.34 L373.00,666.34 L373.44,666.34 L373.88,666.35 L374.32,666.35 L374.76,666.35 L375.20,666.35 L375.64,666.36 L376.08,666.36 L376.52,666.36 L376.96,666.36 L377.40,666.36 L377.84,666.36 L378.28,666.37 L378.72,666.37 L379.16,666.37 L379.60,666.37 L380.04,666.37 L380.48,666.37 L380.92,666.37 L381.36,666.37 L381.80,666.37 L382.24,666.38 L382.68,666.38 L383.12,666.38 L383.56,666.38 L384.00,666.38 L384.44,666.38 L384.88,666.38 L385.32,666.38 L385.76,666.38 L386.20,666.38 L386.64,666.38 L387.08,666.38 L387.52,666.38 L387.96,666.38 L388.40,666.38 L388.84,666.38 L389.28,666.38 L389.72,666.38 L390.16,666.38 L390.60,666.38 L391.04,666.37 L391.48,666.37 L391.92,666.37 L392.36,666.37 L392.80,666.37 L393.24,666.37 L393.68,666.37 L394.12,666.37 L394.56,666.37 L395.00,666.37 L395.44,666.37 L395.88,666.37 L396.32,666.36 L396.77,666.36 L397.21,666.36 L397.65,666.36 L398.09,666.36 L398.53,666.36 L398.97,666.36 L399.41,666.36 L399.85,666.35 L400.29,666.35 L400.73,666.35 L401.17,666.35 L401.61,666.35 L402.05,666.35 L402.49,666.35 L402.93,666.34 L403.37,666.34 L403.81,666.34 L404.25,666.34 L404.69,666.34 L405.13,666.34 L405.57,666.33 L406.01,666.33 L406.45,666.33 L406.89,666.33 L407.33,666.33 L407.77,666.33 L408.21,666.33 L408.65,666.32 L409.09,666.32 L409.53,666.32 L409.97,666.32 L410.41,666.32 L410.85,666.32 L411.29,666.31 L411.73,666.31 L412.17,666.31 L412.61,666.31 L413.05,666.31 L413.49,666.31 L413.93,666.31 L414.37,666.30 L414.81,666.30 L415.25,666.30 L415.69,666.30 L416.13,666.30 L416.57,666.30 L417.01,666.30 L417.45,666.30 L417.89,666.29 L418.33,666.29 L418.77,666.29 L419.21,666.29 L419.65,666.29 L420.09,666.29 L420.53,666.29 L420.97,666.29 L421.41,666.29 L421.85,666.29 L422.29,666.28 L422.73,666.28 L423.17,666.28 L423.61,666.28 L424.05,666.28 L424.49,666.28 L424.93,666.28 L425.37,666.28 L425.81,666.28 L426.25,666.28 L426.69,666.28 L427.13,666.28 L427.57,666.28 L428.01,666.28 L428.45,666.28 L428.89,666.28 L429.33,666.28 L429.77,666.28 L430.21,666.28 L430.65,666.28 L431.09,666.28 L431.53,666.28 L431.97,666.28 L432.41,666.28 L432.85,666.28 L433.29,666.28 L433.73,666.28 L434.17,666.29 L434.61,666.29 L435.05,666.29 L435.49,666.29 L435.93,666.29 L436.37,666.29 L436.81,666.29 L437.24,666.29 L437.68,666.30 L438.12,666.30 L438.56,666.30 L439.00,666.30 L439.44,666.30 L439.88,666.31 L440.32,666.31 L440.76,666.31 L441.20,666.31 L441.64,666.32 L442.08,666.32 L442.52,666.32 L442.96,666.32 L443.40,666.33 L443.84,666.33 L444.28,666.33 L444.72,666.34 L445.16,666.34 L445.60,666.34 L446.04,666.35 L446.47,666.35 L446.91,666.35 L447.35,666.36 L447.79,666.36 L448.23,666.37 L448.67,666.37 L449.11,666.38 L449.55,666.38 L449.99,666.39 L450.43,666.39 L450.87,666.40 L451.31,666.40 L451.75,666.41 L452.19,666.41 L452.62,666.42 L453.06,666.42 L453.50,666.43 L453.94,666.44 L454.38,666.44 L454.82,666.45 L455.26,666.45 L455.70,666.46 L456.14,666.47 L456.58,666.47 L457.02,666.48 L457.45,666.49 L457.89,666.50 L458.33,666.50 L458.77,666.51 L459.21,666.52 L459.65,666.53 L460.09,666.54 L460.53,666.54 L460.97,666.55 L461.41,666.56 L461.84,666.57 L462.28,666.58 L462.72,666.59 L463.16,666.60 L463.60,666.61 L464.04,666.62 L464.48,666.63 L464.92,666.64 L465.35,666.65 L465.79,666.66" stroke="#C8C000"/>
<path d="M203.30,552.31 L203.39,551.59 L203.48,550.87 L203.58,550.15 L203.68,549.43 L203.78,548.71 L203.89,547.99 L204.00,547.27 L204.11,546.55 L204.22,545.84 L204.34,545.12 L204.46,544.40 L204.58,543.69 L204.70,542.97 L204.83,542.25 L204.96,541.54 L205.09,540.82 L205.23,540.11 L205.36,539.39 L205.50,538.68 L205.64,537.97 L205.78,537.25 L205.93,536.54 L206.07,535.83 L206.22,535.12 L206.37,534.40 L206.52,533.69 L206.67,532.98 L206.83,532.27 L206.98,531.56 L207.14,530.85 L207.30,530.14 L207.46,529.43 L207.62,528.72 L207.78,528.01 L207.95,527.30 L208.11,526.59 L208.28,525.88 L208.44,525.17 L208.61,524.46 L208.78,523.75 L208.95,523.04 L209.12,522.34 L209.29,521.63 L209.46,520.92 L209.63,520.21 L209.81,519.50 L209.98,518.80 L210.15,518.09 L210.32,517.38 L210.50,516.67 L210.67,515.97 L210.85,515.26 L211.02,514.55 L211.19,513.84 L211.37,513.14 L211.54,512.43 L211.71,511.72 L211.89,511.02 L212.06,510.31 L212.23,509.60 L212.40,508.89 L212.57,508.19 L212.75,507.48 L212.92,506.77 L213.09,506.06 L213.25,505.36 L213.42,504.65 L213.59,503.94 L213.76,503.24 L213.92,502.53 L214.08,501.82 L214.25,501.11 L214.41,500.40 L214.57,499.70 L214.73,498.99 L214.89,498.28 L215.04,497.57 L215.20,496.86 L215.35,496.15 L215.50,495.44 L215.65,494.73 L215.80,494.03 L215.95,493.32 L216.09,492.61 L216.24,491.90 L216.38,491.19 L216.52,490.48 L216.66,489.76 L216.80,489.05 L216.94,488.34 L217.08,487.63 L217.22,486.93 L217.37,486.22 L217.52,485.51 L217.67,484.80 L217.83,484.09 L218.00,483.39 L218.17,482.68 L218.35,481.98 L218.53,481.28 L218.73,480.57 L218.93,479.88 L219.14,479.18 L219.37,478.48 L219.60,477.79 L219.85,477.09 L220.11,476.40 L220.39,475.71 L220.67,475.03 L220.98,474.34 L221.30,473.66 L221.63,472.98 L221.98,472.30 L222.35,471.64 L222.74,470.98 L223.15,470.34 L223.59,469.73 L224.04,469.15 L224.52,468.60 L225.03,468.10 L225.57,467.63 L226.13,467.23 L226.73,466.88 L227.36,466.59 L228.02,466.37 L228.70,466.22 L229.40,466.14 L230.09,466.14 L230.76,466.21 L231.40,466.35 L232.02,466.56 L232.61,466.84 L233.17,467.17 L233.71,467.56 L234.23,467.99 L234.73,468.47 L235.21,468.99 L235.68,469.54 L236.12,470.13 L236.55,470.73 L236.97,471.36 L237.38,472.01 L237.77,472.66 L238.15,473.32 L238.52,473.99 L238.89,474.65 L239.25,475.32 L239.59,475.98 L239.93,476.65 L240.27,477.32 L240.59,477.99 L240.91,478.66 L241.22,479.33 L241.53,480.01 L241.83,480.68 L242.12,481.36 L242.41,482.03 L242.69,482.71 L242.97,483.39 L243.24,484.06 L243.50,484.74 L243.77,485.42 L244.03,486.10 L244.28,486.78 L244.53,487.46 L244.78,488.15 L245.02,488.83 L245.27,489.51 L245.51,490.20 L245.74,490.88 L245.98,491.56 L246.21,492.25 L246.45,492.93 L246.68,493.62 L246.91,494.30 L247.14,494.99 L247.37,495.67 L247.60,496.36 L247.83,497.05 L248.05,497.73 L248.28,498.42 L248.51,499.11 L248.74,499.79 L248.97,500.48 L249.19,501.16 L249.42,501.85 L249.65,502.54 L249.88,503.23 L250.10,503.91 L250.33,504.60 L250.56,505.29 L250.79,505.97 L251.01,506.66 L251.24,507.35 L251.47,508.04 L251.69,508.72 L251.92,509.41 L252.15,510.10 L252.38,510.78 L252.60,511.47 L252.83,512.16 L253.06,512.85 L253.29,513.53 L253.52,514.22 L253.75,514.91 L253.98,515.60 L254.21,516.28 L254.44,516.97 L254.67,517.66 L254.90,518.34 L255.13,519.03 L255.36,519.72 L255.59,520.41 L255.83,521.09 L256.06,521.78 L256.29,522.47 L256.53,523.15 L256.76,523.84 L257.00,524.52 L257.23,525.21 L257.47,525.90 L257.71,526.58 L257.94,527.27 L258.18,527.95 L258.42,528.64 L258.66,529.32 L258.90,530.01 L259.14,530.69 L259.39,531.38 L259.63,532.06 L259.87,532.75 L260.12,533.43 L260.36,534.11 L260.61,534.80 L260.86,535.48 L261.11,536.17 L261.36,536.85 L261.61,537.53 L261.86,538.21 L262.11,538.90 L262.36,539.58 L262.62,540.26 L262.88,540.94 L263.13,541.62 L263.39,542.30 L263.65,542.98 L263.91,543.66 L264.17,544.34 L264.43,545.02 L264.70,545.70 L264.96,546.38 L265.23,547.06 L265.50,547.74 L265.77,548.41 L266.04,549.09 L266.31,549.77 L266.59,550.44 L266.86,551.12 L267.14,551.80 L267.42,552.47 L267.70,553.15 L267.98,553.82 L268.26,554.49 L268.54,555.17 L268.83,555.84 L269.12,556.51 L269.40,557.18 L269.69,557.85 L269.99,558.52 L270.28,559.19 L270.58,559.86 L270.87,560.52 L271.17,561.19 L271.47,561.86 L271.77,562.52 L272.08,563.18 L272.38,563.85 L272.69,564.51 L273.00,565.17 L273.31,565.83 L273.62,566.49 L273.94,567.15 L274.26,567.81 L274.57,568.46 L274.90,569.12 L275.22,569.77 L275.54,570.42 L275.87,571.08 L276.20,571.73 L276.53,572.38 L276.86,573.02 L277.20,573.67 L277.53,574.32 L277.87,574.96 L278.21,575.61 L278.55,576.25 L278.90,576.89 L279.25,577.53 L279.60,578.17 L279.95,578.80 L280.30,579.44 L280.66,580.07 L281.02,580.71 L281.38,581.34 L281.74,581.97 L282.11,582.59 L282.47,583.22 L282.84,583.85 L283.22,584.47 L283.59,585.09 L283.97,585.71 L284.35,586.33 L284.73,586.95 L285.12,587.56 L285.50,588.18 L285.89,588.79 L286.29,589.40 L286.68,590.01 L287.08,590.61 L287.48,591.22 L287.88,591.82 L288.28,592.42 L288.69,593.02 L289.10,593.62 L289.52,594.21 L289.93,594.81 L290.35,595.40 L290.77,595.99 L291.20,596.57 L291.62,597.16 L292.05,597.74 L292.48,598.32 L292.92,598.90 L293.36,599.48 L293.80,600.06 L294.24,600.63 L294.68,601.20 L295.13,601.77 L295.58,602.34 L296.03,602.90 L296.49,603.47 L296.95,604.03 L297.41,604.59 L297.87,605.14 L298.34,605.70 L298.81,606.25 L299.28,606.80 L299.75,607.35 L300.22,607.90 L300.70,608.44 L301.18,608.98 L301.67,609.52 L302.15,610.06 L302.64,610.60 L303.13,611.13 L303.62,611.67 L304.12,612.19 L304.61,612.72 L305.11,613.25 L305.62,613.77 L306.12,614.29 L306.63,614.81 L307.14,615.33 L307.65,615.84 L308.16,616.35 L308.68,616.87 L309.19,617.37 L309.72,617.88 L310.24,618.38 L310.76,618.88 L311.29,619.38 L311.82,619.88 L312.35,620.38 L312.88,620.87 L313.42,621.36 L313.96,621.85 L314.50,622.33 L315.04,622.82 L315.59,623.30 L316.13,623.78 L316.68,624.25 L317.23,624.73 L317.78,625.20 L318.34,625.67 L318.90,626.14 L319.46,626.60 L320.02,627.06 L320.58,627.52 L321.15,627.98 L321.71,628.44 L322.28,628.89 L322.85,629.34 L323.43,629.79 L324.00,630.24 L324.58,630.68 L325.16,631.13 L325.74,631.56 L326.32,632.00 L326.91,632.44 L327.49,632.87 L328.08,633.30 L328.67,633.73 L329.27,634.15 L329.86,634.57 L330.46,635.00 L331.05,635.41 L331.65,635.83 L332.26,636.24 L332.86,636.65 L333.46,637.06 L334.07,637.47 L334.68,637.87 L335.29,638.27 L335.90,638.67 L336.52,639.06 L337.13,639.46 L337.75,639.84 L338.37,640.23 L338.99,640.62 L339.61,641.00 L340.24,641.38 L340.86,641.75 L341.49,642.12 L342.12,642.49 L342.75,642.86 L343.38,643.22 L344.02,643.58 L344.66,643.94 L345.29,644.29 L345.93,644.64 L346.57,644.99 L347.22,645.33 L347.86,645.67 L348.51,646.01 L349.16,646.34 L349.80,646.67 L350.46,647.00 L351.11,647.32 L351.76,647.64 L352.42,647.96 L353.07,648.27 L353.73,648.58 L354.39,648.88 L355.06,649.19 L355.72,649.48 L356.38,649.78 L357.05,650.07 L357.72,650.35 L358.39,650.63 L359.06,650.91 L359.73,651.18 L360.40,651.45 L361.08,651.72 L361.76,651.98 L362.44,652.24 L363.12,652.49 L363.80,652.74 L364.48,652.98 L365.16,653.22 L365.85,653.46 L366.53,653.69 L367.22,653.92 L367.91,654.15 L368.60,654.37 L369.29,654.59 L369.98,654.81 L370.68,655.02 L371.37,655.23 L372.07,655.43 L372.77,655.63 L373.46,655.83 L374.16,656.03 L374.86,656.22 L375.56,656.41 L376.26,656.59 L376.97,656.77 L377.67,656.95 L378.37,657.13 L379.08,657.30 L379.79,657.47 L380.49,657.64 L381.20,657.80 L381.91,657.97 L382.62,658.13 L383.33,658.28 L384.04,658.44 L384.75,658.59 L385.46,658.74 L386.17,658.88 L386.88,659.03 L387.60,659.17 L388.31,659.31 L389.02,659.44 L389.74,659.58 L390.45,659.71 L391.17,659.84 L391.88,659.97 L392.60,660.09 L393.32,660.22 L394.03,660.34 L394.75,660.46 L395.47,660.58 L396.18,660.69 L396.90,660.80 L397.62,660.92 L398.34,661.03 L399.06,661.13 L399.78,661.24 L400.50,661.34 L401.22,661.45 L401.94,661.55 L402.66,661.64 L403.38,661.74 L404.10,661.84 L404.82,661.93 L405.54,662.02 L406.26,662.11 L406.98,662.20 L407.71,662.29 L408.43,662.37 L409.15,662.45 L409.88,662.53 L410.60,662.61 L411.32,662.69 L412.05,662.77 L412.77,662.84 L413.49,662.92 L414.22,662.99 L414.94,663.06 L415.67,663.13 L416.39,663.20 L417.12,663.26 L417.84,663.33 L418.57,663.39 L419.29,663.46 L420.02,663.52 L420.74,663.58 L421.47,663.63 L422.19,663.69 L422.92,663.75 L423.65,663.80 L424.37,663.86 L425.10,663.91 L425.83,663.96 L426.55,664.01 L427.28,664.06 L428.01,664.11 L428.73,664.15 L429.46,664.20 L430.19,664.24 L430.91,664.29 L431.64,664.33 L432.37,664.37 L433.10,664.41 L433.82,664.45 L434.55,664.49 L435.28,664.53 L436.01,664.57 L436.73,664.60 L437.46,664.64 L438.19,664.67 L438.92,664.70 L439.64,664.74 L440.37,664.77 L441.10,664.80 L441.83,664.83 L442.55,664.86 L443.28,664.89 L444.01,664.92 L444.74,664.95 L445.46,664.98 L446.19,665.00 L446.92,665.03 L447.64,665.06 L448.37,665.08 L449.10,665.11 L449.83,665.13 L450.55,665.15 L451.28,665.18 L452.01,665.20 L452.73,665.22 L453.46,665.24 L454.19,665.27 L454.91,665.29 L455.64,665.31 L456.36,665.33 L457.09,665.35 L457.82,665.37 L458.54,665.39 L459.27,665.41 L459.99,665.43 L460.72,665.45 L461.44,665.47 L462.17,665.49 L462.89,665.51 L463.62,665.53 L464.34,665.55 L465.06,665.56 L465.79,665.58" stroke="#F23A3F"/>
</g>
<g stroke="#000" stroke-width="2.4" fill="none">
<path d="M203,396.1 L474.6,396.1 L474.6,676 M203,396.1 L203,676 M194.5,668.1 L474.6,668.1"/>
<line x1="194.5" y1="396.1" x2="203" y2="396.1"/>
<line x1="194.5" y1="486.8" x2="203" y2="486.8"/>
<line x1="194.5" y1="577.4" x2="203" y2="577.4"/>
<line x1="194.5" y1="668.1" x2="203" y2="668.1"/>
<line x1="293.3" y1="668.1" x2="293.3" y2="676"/>
<line x1="384" y1="668.1" x2="384" y2="676"/>
</g>
<text x="191.6" y="401.20000000000005" font-family="Liberation Sans, sans-serif" font-weight="bold" font-size="14.6" text-anchor="end">3000</text>
<text x="191.6" y="491.90000000000003" font-family="Liberation Sans, sans-serif" font-weight="bold" font-size="14.6" text-anchor="end">2000</text>
<text x="191.6" y="582.5" font-family="Liberation Sans, sans-serif" font-weight="bold" font-size="14.6" text-anchor="end">1000</text>
<text x="191.6" y="673.2" font-family="Liberation Sans, sans-serif" font-weight="bold" font-size="14.6" text-anchor="end">0</text>
<text x="202.7" y="692.9" font-family="Liberation Sans, sans-serif" font-weight="bold" font-size="14.6" text-anchor="middle">550</text>
<text x="293.3" y="692.9" font-family="Liberation Sans, sans-serif" font-weight="bold" font-size="14.6" text-anchor="middle">600</text>
<text x="384" y="692.9" font-family="Liberation Sans, sans-serif" font-weight="bold" font-size="14.6" text-anchor="middle">650</text>
<text x="474.6" y="692.9" font-family="Liberation Sans, sans-serif" font-weight="bold" font-size="14.6" text-anchor="middle">700</text>
<text x="338" y="716.8" font-family="Liberation Sans, sans-serif" font-weight="bold" font-size="16.3" text-anchor="middle">Wavelength (nm)</text>
<text transform="translate(151.3,532.6) rotate(-90)" font-family="Liberation Sans, sans-serif" font-weight="bold" font-size="16.3" text-anchor="middle">Fluorescence intensity (<tspan font-style="italic">a.u.</tspan>)</text>
<line x1="333.3" y1="423.0" x2="354.7" y2="423.0" stroke="#C8C000" stroke-width="3"/>
<text x="366" y="428.0" font-family="Liberation Sans, sans-serif" font-size="15.9" fill="#222">H1+H3</text>
<line x1="333.3" y1="449.6" x2="354.7" y2="449.6" stroke="#0A0AA0" stroke-width="3"/>
<text x="366" y="454.6" font-family="Liberation Sans, sans-serif" font-size="15.9" fill="#222">H2+H3</text>
<line x1="333.3" y1="476.2" x2="354.7" y2="476.2" stroke="#000" stroke-width="3"/>
<text x="366" y="481.2" font-family="Liberation Sans, sans-serif" font-size="15.9" fill="#222">H1+H2</text>
<line x1="333.3" y1="502.8" x2="354.7" y2="502.8" stroke="#F23A3F" stroke-width="3"/>
<text x="366" y="507.8" font-family="Liberation Sans, sans-serif" font-size="15.9" fill="#222">H1+H2+H3</text>
<rect x="159" y="580" width="3" height="3" fill="#fff"/><rect x="165" y="580" width="2" height="3" fill="#fff"/>
<rect x="378" y="426" width="3" height="3" fill="#fff"/><rect x="383" y="426" width="3" height="3" fill="#fff"/>
<rect x="378" y="479" width="3" height="3" fill="#fff"/><rect x="383" y="479" width="3" height="3" fill="#fff"/>
<rect x="378" y="506" width="3" height="3" fill="#fff"/><rect x="383" y="506" width="3" height="3" fill="#fff"/>
</svg>
</body></html>
